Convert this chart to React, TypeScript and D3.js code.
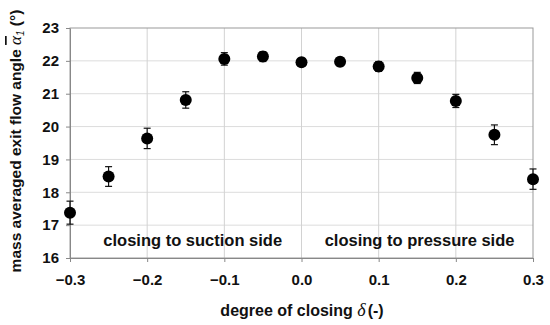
import React, { useRef, useEffect } from 'react';
import * as d3 from 'd3';

// closing degree (x) and mass averaged exit flow angle (y) with error half-widths
const delta = [-0.3, -0.25, -0.2, -0.15, -0.1, -0.05, 0.0, 0.05, 0.1, 0.15, 0.2, 0.25, 0.3];
const angle = [17.38, 18.48, 19.64, 20.81, 22.06, 22.13, 21.96, 21.97, 21.83, 21.48, 20.78, 19.75, 18.4];
const errHalf = [0.35, 0.3, 0.31, 0.25, 0.19, 0.15, 0.12, 0.12, 0.15, 0.17, 0.2, 0.3, 0.31];
const xTicks = [-0.3, -0.2, -0.1, 0.0, 0.1, 0.2, 0.3];
const yTicks = [16, 17, 18, 19, 20, 21, 22, 23];

const App = () => {
  const svgRef = useRef<SVGSVGElement>(null);

  useEffect(() => {
    const width = 550;
    const height = 325;
    const margin = { top: 28, right: 17, bottom: 67, left: 70 };
    const font = '"Liberation Sans", Arial, sans-serif';

    const x = d3.scaleLinear()
      .domain([-0.3, 0.3])
      .range([margin.left, width - margin.right]);
    const y = d3.scaleLinear()
      .domain([16, 23])
      .range([height - margin.bottom, margin.top]);

    const svg = d3.select(svgRef.current)
      .attr('width', width)
      .attr('height', height);
    svg.selectAll('*').remove();

    // grid
    svg.append('g')
      .selectAll('line')
      .data(yTicks.slice(1, -1))
      .enter()
      .append('line')
      .attr('x1', margin.left)
      .attr('x2', width - margin.right)
      .attr('y1', d => y(d))
      .attr('y2', d => y(d))
      .attr('stroke', '#dcdcdc')
      .attr('stroke-width', 1);
    svg.append('g')
      .selectAll('line')
      .data(xTicks.slice(1, -1))
      .enter()
      .append('line')
      .attr('x1', d => x(d))
      .attr('x2', d => x(d))
      .attr('y1', margin.top)
      .attr('y2', height - margin.bottom)
      .attr('stroke', '#d2d2d2')
      .attr('stroke-width', 1);

    // plot frame (top/right)
    svg.append('rect')
      .attr('x', margin.left)
      .attr('y', margin.top)
      .attr('width', width - margin.left - margin.right)
      .attr('height', height - margin.top - margin.bottom)
      .attr('fill', 'none')
      .attr('stroke', '#999')
      .attr('stroke-width', 1);

    // axes
    const xAxis = svg.append('g')
      .attr('transform', `translate(0,${height - margin.bottom})`)
      .call(d3.axisBottom(x).tickValues(xTicks).tickSize(4).tickSizeOuter(0).tickPadding(12)
        .tickFormat(d => d3.format('.1f')(d as number)));
    const yAxis = svg.append('g')
      .attr('transform', `translate(${margin.left},0)`)
      .call(d3.axisLeft(y).tickValues(yTicks).tickSize(4).tickSizeOuter(0).tickPadding(7)
        .tickFormat(d => d3.format('d')(d as number)));
    [xAxis, yAxis].forEach(a => {
      a.select('.domain').attr('stroke', '#888');
      a.selectAll('.tick line').attr('stroke', '#888');
      a.selectAll('.tick text')
        .attr('font-family', font)
        .attr('font-weight', 'bold')
        .attr('font-size', 15)
        .attr('fill', '#111');
    });

    // error bars
    const eb = svg.append('g').attr('stroke', '#111').attr('stroke-width', 1.2);
    delta.forEach((d, i) => {
      const cx = x(d);
      const y0 = y(angle[i] - errHalf[i]);
      const y1 = y(angle[i] + errHalf[i]);
      eb.append('line').attr('x1', cx).attr('x2', cx).attr('y1', y0).attr('y2', y1);
      eb.append('line').attr('x1', cx - 3.5).attr('x2', cx + 3.5).attr('y1', y0).attr('y2', y0);
      eb.append('line').attr('x1', cx - 3.5).attr('x2', cx + 3.5).attr('y1', y1).attr('y2', y1);
    });

    // markers
    svg.append('g')
      .selectAll('circle')
      .data(delta)
      .enter()
      .append('circle')
      .attr('cx', d => x(d))
      .attr('cy', (d, i) => y(angle[i]))
      .attr('r', 6)
      .attr('fill', '#000');

    // annotations
    const note = (tx: number, txt: string) =>
      svg.append('text')
        .attr('x', x(tx))
        .attr('y', 246)
        .attr('text-anchor', 'middle')
        .attr('font-family', font)
        .attr('font-weight', 'bold')
        .attr('font-size', 16.5)
        .attr('fill', '#111')
        .text(txt);
    note(-0.141, 'closing to suction side');
    note(0.153, 'closing to pressure side');

    // x title
    const xt = svg.append('text')
      .attr('x', 302)
      .attr('y', 316)
      .attr('text-anchor', 'middle')
      .attr('font-family', font)
      .attr('font-weight', 'bold')
      .attr('font-size', 16)
      .attr('fill', '#111');
    xt.append('tspan').text('degree of closing ');
    xt.append('tspan').attr('font-style', 'italic').attr('font-weight', 'normal')
      .attr('font-family', '"Liberation Serif", serif').attr('font-size', 18).text('δ');
    xt.append('tspan').attr('dx', 2).text('(-)');

    // y title
    const yt = svg.append('text')
      .attr('transform', 'translate(21,141) rotate(-90)')
      .attr('text-anchor', 'middle')
      .attr('font-family', font)
      .attr('font-weight', 'bold')
      .attr('font-size', 15.5)
      .attr('fill', '#111');
    yt.append('tspan').text('mass averaged exit flow angle ');
    yt.append('tspan').attr('font-style', 'italic').attr('font-weight', 'normal')
      .attr('font-family', '"Liberation Serif", serif').attr('font-size', 17)
      .attr('text-decoration', 'overline').text('α');
    yt.append('tspan').attr('font-style', 'italic').attr('font-weight', 'normal')
      .attr('font-size', 10).attr('dy', 3).text('1');
    yt.append('tspan').attr('dy', -3).text(' (°)');
  }, []);

  return (
    <svg ref={svgRef} style={{ position: 'absolute', left: 0, top: 0, background: '#fff' }}></svg>
  );
};

export default App;
